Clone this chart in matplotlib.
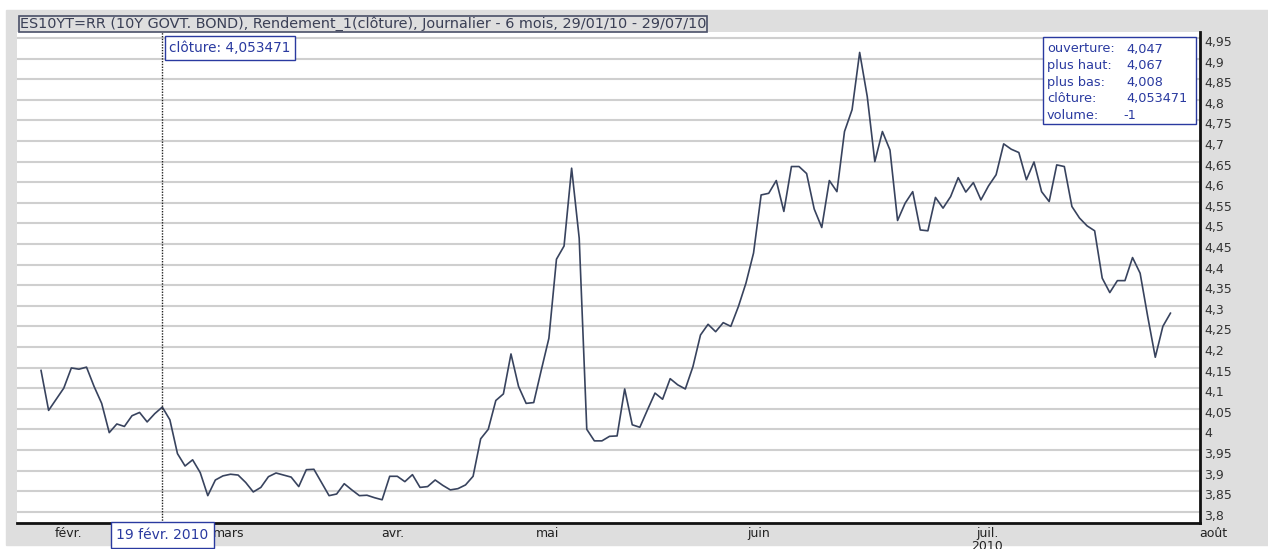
import matplotlib
matplotlib.use('Agg')
import matplotlib.pyplot as plt
from matplotlib.patches import Rectangle
from matplotlib.transforms import ScaledTranslation

plt.rcParams['font.family'] = ['DejaVu Sans']

# rendement de cloture, un point par seance (29/01/10 - 29/07/10)
cloture = [4.143, 4.046, 4.073, 4.100, 4.149, 4.146, 4.151, 4.104, 4.063, 3.992,
           4.013, 4.007, 4.033, 4.041, 4.018, 4.038, 4.054, 4.023, 3.941, 3.911,
           3.926, 3.895, 3.839, 3.877, 3.887, 3.891, 3.889, 3.871, 3.848, 3.859,
           3.885, 3.894, 3.889, 3.884, 3.861, 3.902, 3.903, 3.871, 3.839, 3.843,
           3.868, 3.853, 3.839, 3.840, 3.834, 3.829, 3.886, 3.886, 3.873, 3.890,
           3.859, 3.861, 3.877, 3.864, 3.853, 3.856, 3.865, 3.886, 3.977, 4.000,
           4.070, 4.086, 4.183, 4.104, 4.063, 4.065, 4.144, 4.221, 4.413, 4.445,
           4.634, 4.464, 4.000, 3.972, 3.972, 3.983, 3.984, 4.098, 4.011, 4.005,
           4.047, 4.088, 4.073, 4.123, 4.108, 4.098, 4.152, 4.229, 4.255, 4.237,
           4.259, 4.250, 4.298, 4.355, 4.428, 4.569, 4.573, 4.604, 4.529, 4.638,
           4.638, 4.621, 4.535, 4.490, 4.604, 4.577, 4.723, 4.776, 4.915, 4.808,
           4.650, 4.723, 4.678, 4.507, 4.549, 4.577, 4.484, 4.482, 4.563, 4.537,
           4.565, 4.611, 4.576, 4.599, 4.557, 4.591, 4.618, 4.693, 4.680, 4.672,
           4.606, 4.649, 4.577, 4.553, 4.642, 4.638, 4.541, 4.513, 4.494, 4.482,
           4.367, 4.332, 4.361, 4.361, 4.417, 4.379, 4.274, 4.175, 4.250, 4.282]

mois = ['févr.', 'mars', 'avr.', 'mai', 'juin', 'juil.\n2010', 'août']
mois_pos = [3.6, 24.7, 46.4, 66.8, 94.7, 124.8, 154.6]

y_ticks = [3.8 + 0.05 * k for k in range(24)]

curseur = 16  # 19 févr. 2010
titre = 'ES10YT=RR (10Y GOVT. BOND), Rendement_1(clôture), Journalier - 6 mois, 29/01/10 - 29/07/10'
info_noms = ['ouverture:', 'plus haut:', 'plus bas:', 'clôture:', 'volume:']
info_vals = ['4,047', '4,067', '4,008', '4,053471', '-1']

W, H = 1268, 549
BLEU = '#2a3aa0'
FS = 9.0


def fx(px):
    return px / W


def fy(py):
    return 1 - py / H


fig = plt.figure(figsize=(W / 100, H / 100), dpi=100, facecolor='white')
fig.patches.append(Rectangle((fx(6), fy(545)), 1 - fx(6), fy(10) - fy(545),
                             transform=fig.transFigure, color='#dedede', zorder=-10))

ax = fig.add_axes([fx(17), fy(523), fx(1200) - fx(17), fy(32) - fy(523)])
ax.set_facecolor('white')

x = list(range(len(cloture)))
ax.plot(x, cloture, color='#38435e', lw=1.2, zorder=3)

ax.yaxis.tick_right()
ax.set_yticks(y_ticks)
ax.set_yticklabels([f'{v:.2f}'.rstrip('0').rstrip('.').replace('.', ',') for v in y_ticks])
ax.tick_params(axis='y', length=0, pad=3, labelsize=FS, labelcolor='#333333')
for lab in ax.get_yticklabels():
    lab.set_transform(lab.get_transform() + ScaledTranslation(0, -3 / 100, fig.dpi_scale_trans))
ax.grid(axis='y', color='#cfcfcf', lw=1.5, zorder=1)

# mois sous l'axe (août est au-dela du dernier point)
ax.set_xticks([])
for p, m in zip(mois_pos, mois):
    ax.text(p, -0.009, m, transform=ax.get_xaxis_transform(), ha='center', va='top',
            fontsize=FS, color='#222222', linespacing=0.95, clip_on=False, zorder=2)

ax.set_xlim(-3.17, 152.9)
ax.set_ylim(3.7726, 4.9646)

for s in ['left', 'top']:
    ax.spines[s].set_visible(False)
for s in ['bottom', 'right']:
    ax.spines[s].set_linewidth(2)
    ax.spines[s].set_color('#111111')

# curseur vertical
ax.axvline(curseur, color='#222222', ls=(0, (1, 1)), lw=1, zorder=4)
ax.annotate('clôture: 4,053471', xy=(curseur, 4.9646), xycoords='data',
            xytext=(7, -16), textcoords='offset pixels', ha='left', va='center',
            fontsize=9.8, color=BLEU, zorder=6,
            bbox=dict(boxstyle='square,pad=0.35', fc='white', ec=BLEU, lw=1))
ax.annotate('19 févr. 2010', xy=(curseur, 3.7726), xycoords='data',
            xytext=(0, -12), textcoords='offset pixels', ha='center', va='center',
            fontsize=10, color=BLEU, annotation_clip=False, zorder=6,
            bbox=dict(boxstyle='square,pad=0.4', fc='white', ec=BLEU, lw=1))

# titre
fig.text(fx(20), fy(24), titre, ha='left', va='center', fontsize=10.4, color='#3a3f55',
         bbox=dict(boxstyle='square,pad=0.06', fc='#dedede', ec='#4a5068', lw=1.2))

# boite d'infos
fig.patches.append(Rectangle((fx(1043), fy(124)), fx(1196) - fx(1043), fy(37) - fy(124),
                             transform=fig.transFigure, fc='white', ec=BLEU, lw=1, zorder=5))
for i, (n, v) in enumerate(zip(info_noms, info_vals)):
    yy = fy(49 + i * 16.6)
    fig.text(fx(1047), yy, n, ha='left', va='center', fontsize=9.3, color=BLEU, zorder=6)
    fig.text(fx(1126 if v != '-1' else 1123), yy, v, ha='left', va='center', fontsize=9.3,
             color=BLEU, zorder=6)

fig.savefig('out.png', dpi=100, facecolor='white')
